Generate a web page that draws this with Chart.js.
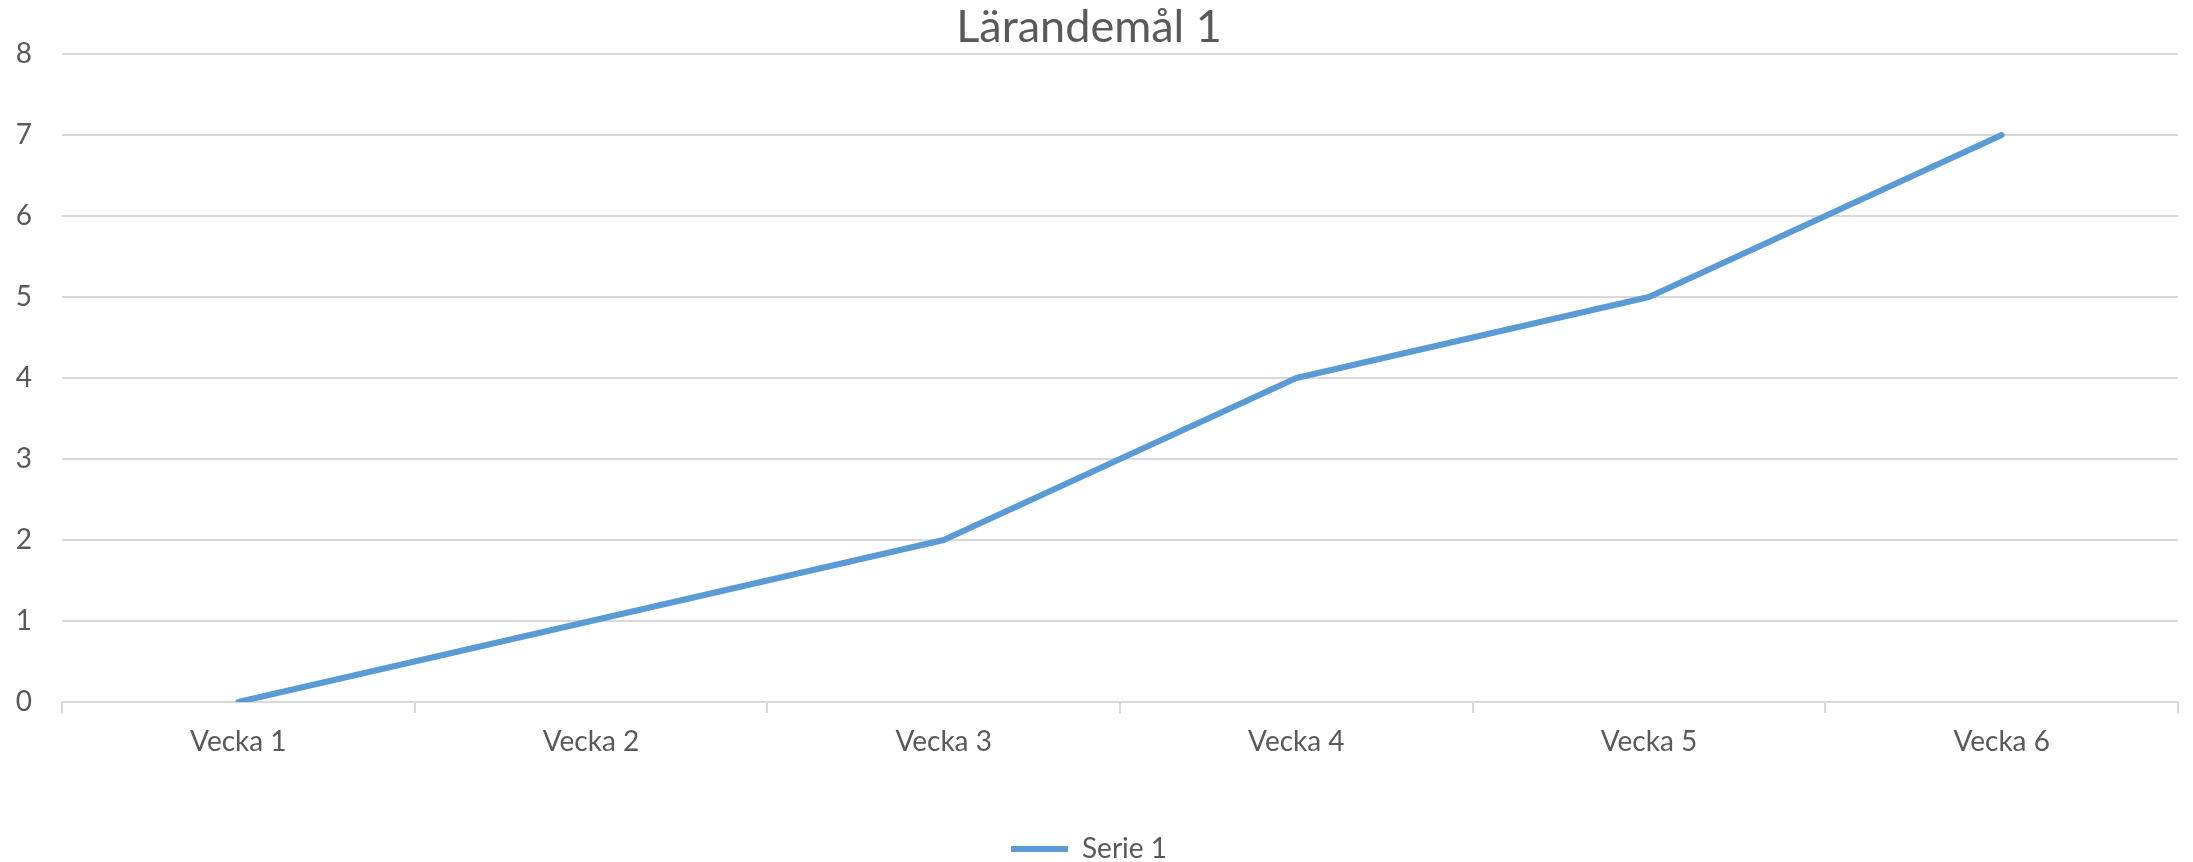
<!DOCTYPE html>
<html>
<head>
<meta charset="utf-8">
<script src="https://cdn.jsdelivr.net/npm/chart.js@4"></script>
<style>
  html, body { margin: 0; padding: 0; background: #ffffff; }
  #wrap { width: 2193px; height: 862px; }
</style>
</head>
<body>
<div id="wrap"><canvas id="chart" width="2193" height="862"></canvas></div>
<script>
// Data
const chartTitle = 'Lärandemål 1';
const weeks = ['Vecka 1', 'Vecka 2', 'Vecka 3', 'Vecka 4', 'Vecka 5', 'Vecka 6'];
const serie1 = [0, 1, 2, 4, 5, 7];
const seriesName = 'Serie 1';

const textColor = '#595959';
const gridColor = '#d9d9d9';
const lineColor = '#5b9bd5';

const ctx = document.getElementById('chart').getContext('2d');

new Chart(ctx, {
    type: 'line',
    data: {
        labels: weeks,
        datasets: [{
            label: seriesName,
            data: serie1,
            borderColor: lineColor,
            backgroundColor: lineColor,
            borderWidth: 6,
            borderCapStyle: 'round',
            borderJoinStyle: 'round',
            pointRadius: 0,
            tension: 0,
            fill: false
        }]
    },
    options: {
        responsive: false,
        animation: false,
        layout: {
            // legend sits close to the bottom edge in the original
            padding: { left: 0, right: 15, top: 0, bottom: -11 }
        },
        scales: {
            x: {
                offset: true,
                grid: {
                    offset: true,
                    drawOnChartArea: false,
                    drawTicks: true,
                    tickLength: 11,
                    color: gridColor,
                    lineWidth: 2
                },
                border: { display: true, color: gridColor, width: 2 },
                ticks: {
                    color: textColor,
                    padding: 12,
                    font: { family: 'Lato', size: 28 }
                },
                afterFit: function (scale) { scale.height = 131; }
            },
            y: {
                min: 0,
                max: 8,
                ticks: {
                    stepSize: 1,
                    color: textColor,
                    padding: 30,
                    font: { family: 'Lato', size: 28 }
                },
                grid: {
                    color: gridColor,
                    lineWidth: 2,
                    drawTicks: false
                },
                border: { display: false },
                afterFit: function (scale) { scale.width = 62; }
            }
        },
        plugins: {
            title: {
                display: true,
                text: chartTitle,
                color: textColor,
                font: { family: 'Lato', size: 45, weight: 'normal' },
                padding: { top: 0, bottom: 0 }
            },
            legend: {
                display: true,
                position: 'bottom',
                labels: {
                    color: textColor,
                    font: { family: 'Lato', size: 28 },
                    usePointStyle: true,
                    pointStyle: 'line',
                    pointStyleWidth: 57,
                    padding: 2
                }
            },
            tooltip: { enabled: false }
        }
    }
});
</script>
</body>
</html>
